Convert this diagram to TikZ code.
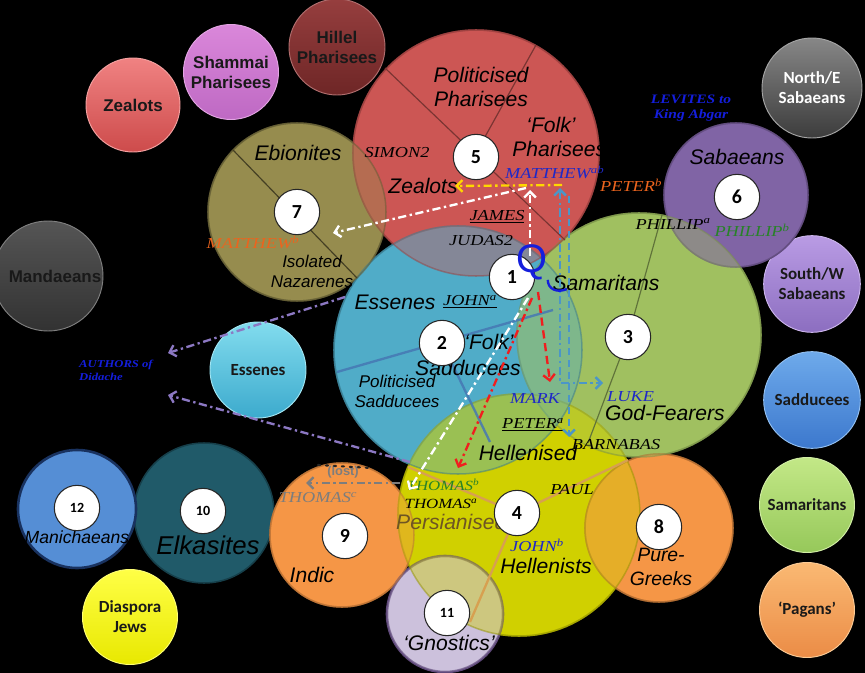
\documentclass[tikz,border=0pt]{standalone}
\usepackage{fontspec}
\setmainfont{Liberation Sans}
\newfontfamily\callig[FakeStretch=1.2]{Liberation Serif}
\newfontfamily\carl{Carlito}
\usetikzlibrary{arrows.meta}

\definecolor{redc}{RGB}{204,86,84}
\definecolor{olivec}{RGB}{150,140,78}
\definecolor{bluec}{RGB}{80,172,200}
\definecolor{greenc}{RGB}{160,192,96}
\definecolor{yellowc}{RGB}{208,208,0}
\definecolor{orangec}{RGB}{245,150,70}
\definecolor{purplec}{RGB}{128,100,165}
\definecolor{lavc}{RGB}{204,193,220}
\definecolor{tealc}{RGB}{32,90,105}
\definecolor{manic}{RGB}{85,142,213}
\definecolor{qblue}{RGB}{20,30,220}
\definecolor{nameblue}{RGB}{30,40,200}
\definecolor{nameorange}{RGB}{235,100,30}
\definecolor{namegreen}{RGB}{40,130,40}
\definecolor{persbrown}{RGB}{110,85,35}
\definecolor{arryellow}{RGB}{255,215,0}
\definecolor{arrred}{RGB}{240,30,30}
\definecolor{arrsteel}{RGB}{75,150,200}
\definecolor{arrpurple}{RGB}{140,120,195}
\definecolor{arrgray}{RGB}{125,125,125}
\definecolor{bdiv}{RGB}{70,120,180}
\definecolor{ydiv}{RGB}{215,160,80}
% small circles
\definecolor{zealT}{RGB}{240,130,130}\definecolor{zealB}{RGB}{205,75,75}
\definecolor{shamT}{RGB}{218,135,218}\definecolor{shamB}{RGB}{190,105,195}
\definecolor{hillT}{RGB}{150,62,62}\definecolor{hillB}{RGB}{110,38,38}
\definecolor{neT}{RGB}{135,135,135}\definecolor{neB}{RGB}{60,60,60}
\definecolor{manT}{RGB}{85,85,85}\definecolor{manB}{RGB}{50,50,50}
\definecolor{essT}{RGB}{130,220,238}\definecolor{essB}{RGB}{60,170,205}
\definecolor{swT}{RGB}{185,155,228}\definecolor{swB}{RGB}{140,110,192}
\definecolor{sadT}{RGB}{110,170,235}\definecolor{sadB}{RGB}{60,120,205}
\definecolor{samT}{RGB}{195,232,135}\definecolor{samB}{RGB}{150,200,90}
\definecolor{pagT}{RGB}{250,185,115}\definecolor{pagB}{RGB}{235,140,70}
\definecolor{diaT}{RGB}{255,255,70}\definecolor{diaB}{RGB}{232,232,0}

\begin{document}
\begin{tikzpicture}[x=0.3mm,y=0.3mm,
  num/.style={circle, fill=white, draw=black!85, line width=0.9pt, minimum size=13.6mm, inner sep=0pt, font=\carl\bfseries\fontsize{17}{17}\selectfont},
  numsm/.style={num, font=\carl\bfseries\fontsize{12}{12}\selectfont},
  lab/.style={font=\itshape\fontsize{18}{21}\selectfont, align=center, inner sep=0pt},
  labs/.style={font=\itshape\fontsize{14.5}{17}\selectfont, align=center, inner sep=0pt},
  nm/.style={font=\callig\itshape\fontsize{13}{14}\selectfont, inner sep=0pt},
  nmb/.style={font=\callig\bfseries\itshape\fontsize{11}{12.5}\selectfont, inner sep=0pt},
  smc/.style={circle, inner sep=0pt, align=center, minimum size=28.5mm, font=\carl\bfseries\fontsize{14.5}{17}\selectfont, text=black!90},
  sma/.style={smc, font=\bfseries\fontsize{14.5}{17}\selectfont},
  grad/.style 2 args={top color=#1, bottom color=#2, draw=#1!75!white, line width=0.8pt},
  arr/.style={line width=2pt, -{Straight Barb[length=5pt,width=10pt]}},
  arrb/.style={line width=2pt, {Straight Barb[length=5pt,width=10pt]}-{Straight Barb[length=5pt,width=10pt]}},
  dd/.style={dash pattern=on 7pt off 3pt on 2pt off 3pt},
  p1/.style={line width=1.3pt},
  p2/.style={fill opacity=0.42, draw opacity=0.5, line width=1.3pt},
]
\useasboundingbox (0,0) rectangle (865,-673);
\clip (0,0) rectangle (865,-673);
\fill[black] (0,0) rectangle (865,-673);

% ---------- small shaded circles ----------
\node[sma, grad={zealT}{zealB}, minimum size=28.2mm] (szeal) at (133,-105) {Zealots};
\node[sma, grad={shamT}{shamB}, minimum size=28.5mm] (ssham) at (231,-72) {Shammai\\Pharisees};
\node[sma, grad={hillT}{hillB}, minimum size=28.8mm] (shill) at (337,-47) {Hillel\\Pharisees};
\node[smc, grad={neT}{neB}, minimum size=30mm, text=white] (sne) at (812,-88) {North/E\\Sabaeans};
\node[sma, grad={manT}{manB}, minimum size=33mm] (smand) at (48,-276) {\hspace{12pt}Mandaeans};
\node[smc, grad={essT}{essB}, minimum size=28.8mm] (sess) at (258,-370) {Essenes};
\node[smc, grad={swT}{swB}, minimum size=29mm] (ssw) at (812,-284) {South/W\\Sabaeans};
\node[smc, grad={sadT}{sadB}, minimum size=29mm] (ssad) at (812,-400) {Sadducees};
\node[smc, grad={samT}{samB}, minimum size=28.5mm] (ssam) at (807,-505) {Samaritans};
\node[smc, grad={pagT}{pagB}, minimum size=28.5mm] (spag) at (807,-610) {‘Pagans’};
\node[smc, grad={diaT}{diaB}, minimum size=28.5mm] (sdia) at (130,-617) {Diaspora\\Jews};

% ---------- big circles, pass 1 (opaque, bottom to top) ----------
\path[p1, fill=olivec, draw=olivec!65!black] (297,-212) circle[radius=89];
\path[p1, fill=redc, draw=redc!75!black] (476,-153) circle[radius=123];
\path[p1, fill=bluec, draw=bluec!75!black] (458,-350) circle[radius=124];
\path[p1, fill=greenc, draw=greenc!80!black] (639,-335) circle[radius=122];
\path[p1, fill=purplec, draw=purplec!75!black] (736,-195) circle[radius=72];
\path[p1, fill=tealc, draw=tealc!70!black] (204,-513) circle[radius=70];
\path[p1, fill=manic, draw={rgb,255:red,25;green,50;blue,95}, line width=2.2pt] (77,-509) circle[radius=59];
\path[p1, fill=orangec, draw=orangec!75!black] (342,-535) circle[radius=72];
\path[p1, fill=yellowc, draw=yellowc!85!black] (519,-515) circle[radius=121];
\path[p1, fill=orangec, draw=orangec!70!black] (659,-528) circle[radius=74];
\path[p1, fill=lavc, draw={rgb,255:red,95;green,73;blue,122}, line width=2.2pt] (445,-614) circle[radius=58];

% ---------- big circles, pass 2 (translucent, top to bottom) ----------
\path[p2, fill=lavc, draw={rgb,255:red,95;green,73;blue,122}] (445,-614) circle[radius=58];
\path[p2, fill=orangec, draw=orangec!70!black] (659,-528) circle[radius=74];
\path[p2, fill=yellowc, draw=yellowc!70!black] (519,-515) circle[radius=121];
\path[p2, fill=orangec, draw=orangec!75!black] (342,-535) circle[radius=72];
\path[p2, fill=purplec, draw=purplec!75!black] (736,-195) circle[radius=72];
\path[p2, fill=greenc, draw=greenc!75!black] (639,-335) circle[radius=122];
\path[p2, fill=bluec, draw=bluec!70!black] (458,-350) circle[radius=124];
\path[p2, fill=redc, draw=redc!75!black] (476,-153) circle[radius=123];
\path[p2, fill=olivec, draw=olivec!65!black] (297,-212) circle[radius=89];

% ---------- dividers ----------
\draw[olivec!45!black, line width=1pt] (233,-150) -- (357,-278);
\draw[redc!60!black, line width=1pt] (385,-68) -- (565,-240);
\draw[redc!60!black, line width=1pt] (476,-153) -- (536,-45);
\draw[bdiv, line width=2pt, draw opacity=0.85] (337,-372) -- (553,-310);
\draw[bdiv, line width=2pt, draw opacity=0.85] (442,-343) -- (490,-442);
\draw[greenc!60!black, line width=1pt] (628,-337) -- (662,-215);
\draw[greenc!60!black, line width=1pt] (628,-337) -- (588,-443);
\draw[ydiv, line width=2pt] (517,-513) -- (408,-467);
\draw[ydiv, line width=2pt] (517,-513) -- (628,-460);
\draw[ydiv, line width=2pt] (517,-513) -- (470,-622);

% ---------- main labels ----------
\node[lab] (tpolph) at (481,-87) {Politicised\\Pharisees};
\node[lab] (tfolkph) at (551,-137) {‘Folk’\\\hspace{14pt}Pharisees};
\node[lab] (tzeal) at (423,-186) {Zealots};
\node[lab] (tebi) at (298,-153) {Ebionites};
\node[labs] (tiso) at (312,-271) {Isolated\\Nazarenes};
\node[lab] (tsab) at (737,-157) {Sabaeans};
\node[lab] (tsam) at (606,-283) {Samaritans};
\node[lab] (tess) at (395,-302) {Essenes};
\node[lab] (tfolksad) at (489,-342) {‘Folk’};
\node[lab] (tsad) at (468,-368) {Sadducees};
\node[labs] (tpolsad) at (397,-391) {Politicised\\Sadducees};
\node[lab] (tgod) at (665,-413) {God-Fearers};
\node[lab] (thel) at (528,-453) {Hellenised};
\node[lab, text=persbrown, anchor=west] (tpers) at (396,-522) {Persianised};
\node[lab] (thels) at (546,-566) {Hellenists};
\node[lab] (tind) at (312,-575) {Indic};
\node[lab, font=\itshape\fontsize{16.5}{20}\selectfont] (tpure) at (661,-567) {Pure-\\Greeks};
\node[lab] (tgno) at (449,-643) {‘Gnostics’};
\node[lab, font=\itshape\fontsize{22}{22}\selectfont] (telk) at (208,-545) {Elkasites};
\node[lab, font=\itshape\fontsize{15}{15}\selectfont] (tman) at (77,-537) {Manichaeans};

% ---------- names ----------
\node[nm] (simon) at (397,-153) {SIMON2};
\node[nm, text=nameblue, anchor=west] (matab) at (505,-172) {MATTHEW\textsuperscript{ab}};
\node[nm, text=nameorange, anchor=west] (peterb) at (600,-185) {PETER\textsuperscript{b}};
\node[nmb, text=qblue, align=center] (lev) at (691,-108) {LEVITES to\\King Abgar};
\node[nm] (phila) at (673,-224) {PHILLIP\textsuperscript{a}};
\node[nm, text=namegreen] (philb) at (752,-230) {PHILLIP\textsuperscript{b}};
\node[nm, text=nameorange] (matb) at (253,-242) {MATTHEW\textsuperscript{b}};
\node[nm] (james) at (497,-217) {\underline{JAMES}};
\node[nm] (judas) at (481,-241) {JUDAS2};
\node[nm] (johna) at (470,-302) {\underline{JOHN\textsuperscript{a}}};
\node[nm, text=nameblue] (mark) at (535,-398) {MARK};
\node[nm, text=nameblue, anchor=west] (luke) at (607,-397) {LUKE};
\node[nm] (petera) at (533,-425) {\underline{PETER\textsuperscript{a}}};
\node[nm] (barn) at (616,-445) {BARNABAS};
\node[nm] (paul) at (572,-490) {PAUL};
\node[nm, font=\callig\itshape\fontsize{12}{13}\selectfont, text=namegreen] (thomb) at (443,-485) {THOMAS\textsuperscript{b}};
\node[nm, font=\callig\itshape\fontsize{12}{13}\selectfont] (thoma) at (441,-504) {THOMAS\textsuperscript{a}};
\node[nm, text=arrgray] (thomc) at (318,-498) {THOMAS\textsuperscript{c}};
\node[font=\bfseries\fontsize{11}{11}\selectfont, text=arrgray, inner sep=0pt] (lost) at (343,-472) {(lost)};
\node[nm, text=nameblue] (johnb) at (537,-545) {JOHN\textsuperscript{b}};
\node[nmb, font=\callig\bfseries\itshape\fontsize{9}{11}\selectfont, text=qblue, align=left, anchor=west] (auth) at (79,-370) {AUTHORS of\\Didache};

% ---------- connector end points ----------
\coordinate (yS) at (562,-185);   \coordinate (yE) at (455,-186);
\coordinate (wUpS) at (530,-256); \coordinate (wUpE) at (530,-190);
\coordinate (w7S) at (526,-188);  \coordinate (w7E) at (333,-233);
\coordinate (wDS) at (528,-298);  \coordinate (wDE) at (409,-490);
\coordinate (rMS) at (538,-292);  \coordinate (rME) at (550,-382);
\coordinate (rTS) at (532,-298);  \coordinate (rTE) at (458,-468);
\coordinate (sAT) at (560,-188);  \coordinate (sAC) at (560,-383); \coordinate (sAE) at (603,-383);
\coordinate (sBS) at (569,-196);  \coordinate (sBE) at (569,-437);
\coordinate (pUS) at (345,-297);  \coordinate (pUE) at (168,-353);
\coordinate (pLS) at (410,-462);  \coordinate (pLE) at (168,-395);
\coordinate (gS) at (400,-483);   \coordinate (gE) at (306,-483);
\coordinate (dA) at (318,-465);   \coordinate (dB) at (372,-468);

% ---------- connectors ----------
\draw[arr, dd, arryellow] (yS) -- (yE);
\draw[arr, dd, white] (wUpS) -- (wUpE);
\draw[arr, dd, white] (w7S) -- (w7E);
\draw[arr, dd, white] (wDS) -- (wDE);
\draw[arr, dash pattern=on 7pt off 4pt, arrred] (rMS) -- (rME);
\draw[arr, dd, arrred] (rTS) -- (rTE);
\draw[arrb, dd, arrsteel] (sAT) -- (sAC) -- (sAE);
\draw[arr, dash pattern=on 6pt off 4pt, arrsteel] (sBS) -- (sBE);
\draw[arr, dd, arrpurple] (pUS) -- (pUE);
\draw[arr, dd, arrpurple] (pLS) -- (pLE);
\draw[arr, dd, arrgray] (gS) -- (gE);
\draw[black!85, line width=1.8pt, dash pattern=on 1.8pt off 5pt, line cap=round] (dA) -- (dB);

% ---------- number circles ----------
\node[num] (n5) at (476,-157) {5};
\node[num] (n7) at (297,-212) {7};
\node[num] (n1) at (512,-277) {1};
\node[num] (n2) at (442,-343) {2};
\node[num] (n3) at (628,-337) {3};
\node[num] (n6) at (737,-197) {6};
\node[num] (n4) at (517,-513) {4};
\node[num] (n9) at (345,-536) {9};
\node[num] (n8) at (659,-527) {8};
\node[numsm] (n10) at (203,-511) {10};
\node[numsm] (n12) at (77,-508) {12};
\node[numsm] (n11) at (447,-613) {11};

% ---------- the Q ----------
\node[font=\fontsize{34}{34}\selectfont, text=qblue, inner sep=0pt] (q) at (532,-262) {Q};
\coordinate (qT) at (567,-289);
\draw[qblue, line width=2pt] (q.south east) .. controls (548,-290) and (558,-293) .. (qT);
\end{tikzpicture}
\end{document}
